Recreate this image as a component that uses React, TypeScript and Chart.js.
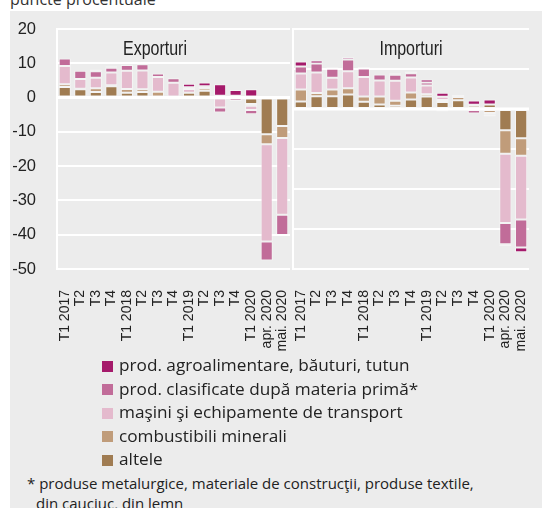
import React, { useEffect, useRef } from 'react';
import { Chart, registerables } from 'chart.js';

Chart.register(...registerables);

// ---------- DATA ----------
const categories = [
  'T1 2017', 'T2', 'T3', 'T4',
  'T1 2018', 'T2', 'T3', 'T4',
  'T1 2019', 'T2', 'T3', 'T4',
  'T1 2020', 'apr. 2020', 'mai. 2020',
];

// stacking order from zero outward
const seriesNames = [
  'altele',
  'combustibili minerali',
  'maşini şi echipamente de transport',
  'prod. clasificate după materia primă*',
  'prod. agroalimentare, băuturi, tutun',
];
const seriesColors = ['#a07c52', '#c09c7a', '#e4bacd', '#c16c99', '#a51a6b'];

// Exporturi (puncte procentuale)
const expAltele = [3.1, 2.4, 1.6, 3.3, 1.4, 1.6, 0, 0, 1.4, 2.0, 0.4, 0, -1.9, -10.7, -8.3];
const expCombustibili = [0.8, 0.2, 1.1, 0.3, 1.1, 0.8, 1.7, -0.6, -0.4, 0.7, 0.1, 0, -0.5, -2.9, -3.5];
const expMasini = [5.3, 2.8, 3.1, 3.7, 5.3, 5.5, 4.3, 4.3, 1.1, 0.5, -2.9, 0.5, -1.2, -28.4, -22.4];
const expClasificate = [2.2, 2.4, 1.9, 1.4, 1.7, 1.8, 1.0, 1.3, 0.5, 0.1, -1.45, -1.0, -1.3, -5.5, -5.9];
const expAgro = [0, 0, 0.5, 0.4, 0, 0, 0, 0, 1.0, 1.1, 3.4, 1.7, 2.4, 0.5, 0];

// Importuri (puncte procentuale)
const impAltele = [1.9, 3.2, 3.2, 3.6, 1.8, 1.1, 0.8, 2.4, 3.1, 1.75, 2.2, 0.8, 1.1, -5.3, -7.3];
const impCombustibili = [3.0, 0.8, 1.7, 1.6, 1.3, 2.0, 1.25, 1.75, 0.6, 0.5, 0.8, 0.25, -1.0, -5.9, -4.4];
const impMasini = [4.0, 5.1, 2.9, 4.25, 4.9, 4.0, 5.0, 3.7, 2.2, 0.8, 0, 0, -0.4, -17.3, -15.9];
const impClasificate = [1.7, 2.3, 2.25, 2.9, 2.1, 1.5, 1.5, 1.1, 0.75, -0.6, 0, -1.1, -0.5, -5.3, -7.0];
const impAgro = [1.3, 0.7, 0.4, 0.6, 0.4, 0.1, 0.4, 0.4, 0.75, 1.0, 0.5, 1.1, 1.25, -0.5, -1.2];

const leftAxisMin = -50;
const leftAxisMax = 20;
const rightAxisMin = -40;
const rightAxisMax = 20;
const tickStep = 10;

const legendLabels = [
  'prod. agroalimentare, băuturi, tutun',
  'prod. clasificate după materia primă*',
  'maşini şi echipamente de transport',
  'combustibili minerali',
  'altele',
];
const legendColors = ['#a51a6b', '#c16c99', '#e4bacd', '#c09c7a', '#a07c52'];

const unitLabel = 'puncte procentuale';
const footnoteLine1 = '* produse metalurgice, materiale de construcţii, produse textile,';
const footnoteLine2 = 'din cauciuc, din lemn';

// ---------- STYLE ----------
const SANS = "'Liberation Sans', Arial, sans-serif";
const HUMAN = "'Open Sans', 'Noto Sans', sans-serif";
const TEXT = '#222222';
const BG = '#ececec';

const zeroLinePlugin = {
  id: 'zeroLine',
  afterDatasetsDraw(chart: any) {
    const y = chart.scales.y.getPixelForValue(0);
    const { left, right } = chart.chartArea;
    const ctx = chart.ctx;
    ctx.save();
    ctx.strokeStyle = '#ffffff';
    ctx.lineWidth = 3;
    ctx.beginPath();
    ctx.moveTo(left, y);
    ctx.lineTo(right, y);
    ctx.stroke();
    ctx.restore();
  },
};

function buildDatasets(series: number[][]) {
  return series.map((vals, i) => ({
    label: seriesNames[i],
    data: vals.map((v) => (v === 0 ? null : v)),
    backgroundColor: seriesColors[i],
    borderColor: 'rgba(255,255,255,0.45)',
    borderWidth: 1,
    borderSkipped: false,
    categoryPercentage: 1,
    barPercentage: 0.78,
    stack: 'all',
  }));
}

function buildOptions(min: number, max: number, yWidth: number, showY: boolean, padRight: number) {
  return {
    responsive: false,
    animation: false,
    events: [],
    layout: { padding: { top: 18, right: padRight, left: 0, bottom: 0 } },
    plugins: { legend: { display: false }, tooltip: { enabled: false }, title: { display: false } },
    scales: {
      x: {
        stacked: true,
        grid: { display: false },
        border: { display: false },
        ticks: {
          autoSkip: false,
          maxRotation: 90,
          minRotation: 90,
          padding: 13,
          color: TEXT,
          font: { family: SANS, size: 14 },
        },
        afterFit: (s: any) => {
          s.height = 87;
          s.paddingLeft = 0;
          s.paddingRight = 0;
        },
      },
      y: {
        stacked: true,
        min,
        max,
        ticks: {
          stepSize: tickStep,
          display: showY,
          padding: 21,
          color: TEXT,
          font: { family: SANS, size: 16.5 },
        },
        grid: { color: '#ffffff', lineWidth: 2, drawTicks: false },
        border: { display: true, color: '#ffffff', width: 2 },
        afterFit: (s: any) => {
          s.width = yWidth;
          s.paddingTop = 0;
          s.paddingBottom = 0;
        },
      },
    },
  };
}

const titleStyle = (left: number): React.CSSProperties => ({
  position: 'absolute',
  left,
  width: 200,
  top: 38,
  textAlign: 'center',
  fontFamily: SANS,
  fontSize: 19.5,
  lineHeight: '20px',
  transform: 'scaleX(0.82)',
  transformOrigin: 'center',
});

export default function App() {
  const leftRef = useRef<HTMLCanvasElement | null>(null);
  const rightRef = useRef<HTMLCanvasElement | null>(null);

  useEffect(() => {
    const left = new Chart(leftRef.current as HTMLCanvasElement, {
      type: 'bar',
      data: {
        labels: categories,
        datasets: buildDatasets([expAltele, expCombustibili, expMasini, expClasificate, expAgro]) as any,
      },
      options: buildOptions(leftAxisMin, leftAxisMax, 47, true, 2) as any,
      plugins: [zeroLinePlugin],
    });
    const right = new Chart(rightRef.current as HTMLCanvasElement, {
      type: 'bar',
      data: {
        labels: categories,
        datasets: buildDatasets([impAltele, impCombustibili, impMasini, impClasificate, impAgro]) as any,
      },
      options: buildOptions(rightAxisMin, rightAxisMax, 1, false, 13) as any,
      plugins: [zeroLinePlugin],
    });
    return () => {
      left.destroy();
      right.destroy();
    };
  }, []);

  return (
    <div
      style={{
        position: 'absolute',
        left: 0,
        top: 0,
        width: 542,
        height: 508,
        overflow: 'hidden',
        background: '#ffffff',
        color: TEXT,
      }}
    >
      <div
        style={{
          position: 'absolute',
          left: 10,
          top: -9,
          fontFamily: HUMAN,
          fontSize: 16,
          lineHeight: '16px',
          whiteSpace: 'nowrap',
          color: '#333',
        }}
      >
        {unitLabel}
      </div>
      <div style={{ position: 'absolute', left: 10, top: 11, width: 532, height: 497, background: BG }} />
      <canvas
        ref={leftRef}
        width={282}
        height={345}
        style={{ position: 'absolute', left: 10, top: 11, width: 282, height: 345 }}
      />
      <canvas
        ref={rightRef}
        width={250}
        height={345}
        style={{ position: 'absolute', left: 292, top: 11, width: 250, height: 345 }}
      />
      <div style={titleStyle(55)}>Exporturi</div>
      <div style={titleStyle(311)}>Importuri</div>
      {legendLabels.map((lab, i) => (
        <React.Fragment key={lab}>
          <div
            style={{
              position: 'absolute',
              left: 102,
              top: 361 + i * 23.4,
              width: 11,
              height: 11,
              background: legendColors[i],
            }}
          />
          <div
            style={{
              position: 'absolute',
              left: 119,
              top: 353.4 + i * 23.4,
              fontFamily: HUMAN,
              fontSize: 17.2,
              lineHeight: '23.4px',
              whiteSpace: 'nowrap',
            }}
          >
            {lab}
          </div>
        </React.Fragment>
      ))}
      <div
        style={{
          position: 'absolute',
          left: 27,
          top: 474.4,
          fontFamily: HUMAN,
          fontSize: 15,
          lineHeight: '19.5px',
          whiteSpace: 'nowrap',
        }}
      >
        {footnoteLine1}
      </div>
      <div
        style={{
          position: 'absolute',
          left: 36,
          top: 493.9,
          fontFamily: HUMAN,
          fontSize: 15,
          lineHeight: '19.5px',
          whiteSpace: 'nowrap',
        }}
      >
        {footnoteLine2}
      </div>
    </div>
  );
}
